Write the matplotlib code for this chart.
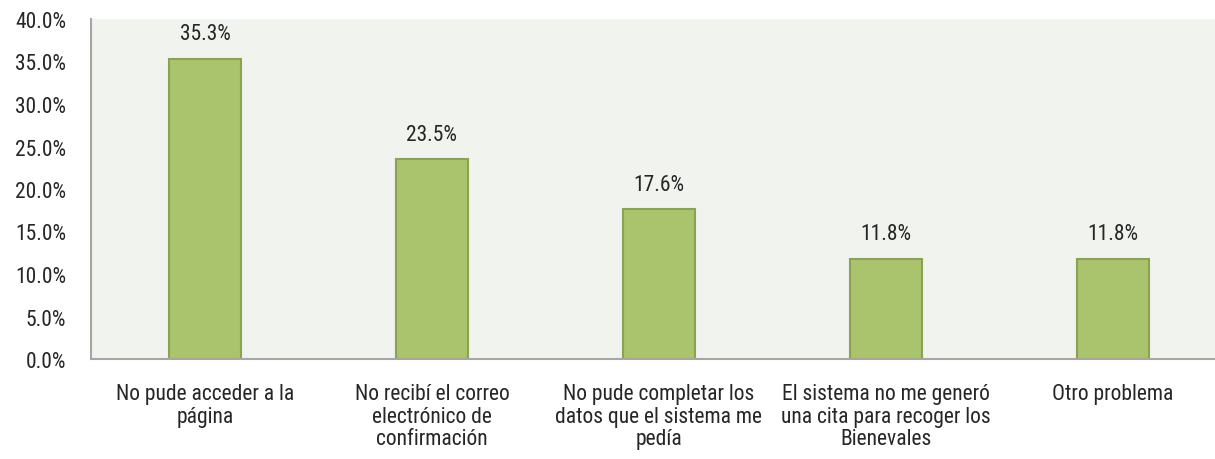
import matplotlib
matplotlib.use('Agg')
import matplotlib.pyplot as plt
import matplotlib.ticker as mtick
from matplotlib import font_manager

categories = ['No pude acceder a la\npágina',
              'No recibí el correo\nelectrónico de\nconfirmación',
              'No pude completar los\ndatos que el sistema me\npedía',
              'El sistema no me generó\nuna cita para recoger los\nBienevales',
              'Otro problema']
values = [0.353, 0.235, 0.176, 0.118, 0.118]

# look for a narrow / condensed regular face
paths = [f.fname for f in font_manager.fontManager.ttflist]
pick = None
for key in ['LiberationSansNarrow-Regular', 'RobotoCondensed-Regular', 'OpenSans_Condensed-Regular',
            'OpenSansCondensed-Regular', 'NotoSans-Condensed.', 'NotoSans_Condensed-Regular',
            'DejaVuSansCondensed.']:
    hits = [p for p in paths if key.lower() in p.lower().replace(' ', '')]
    if hits:
        pick = hits[0]
        break
if pick:
    fp = font_manager.FontProperties(fname=pick)
else:
    fp = font_manager.FontProperties(family='DejaVu Sans', stretch='condensed')

fs = 15.5
txt = '#262626'
fig = plt.figure(figsize=(12.15, 4.6), dpi=100)
ax = fig.add_axes([91/1215, 100/460, 1124/1215, 340/460])
ax.set_facecolor('#F1F3EE')
x = range(len(values))
ax.bar(x, values, width=0.317, color='#AAC46E', edgecolor='#8AA352', linewidth=1.5)
for xi, v in zip(x, values):
    ax.annotate(f'{v*100:.1f}%', (xi, v), xytext=(0, 10.5), textcoords='offset points',
                ha='center', va='bottom', fontproperties=fp, fontsize=fs, color=txt)
ax.set_xlim(-0.502, 4.45)
ax.set_ylim(0, 0.40)
ax.set_yticks([i * 0.05 for i in range(9)])
ax.yaxis.set_major_formatter(mtick.PercentFormatter(xmax=1, decimals=1))
ax.set_xticks(list(x))
ax.set_xticklabels(categories, linespacing=1.12, va='top')
ax.tick_params(axis='both', length=0, colors=txt)
ax.tick_params(axis='x', pad=17)
ax.tick_params(axis='y', pad=18)
for lab in ax.get_xticklabels() + ax.get_yticklabels():
    lab.set_fontproperties(fp)
    lab.set_fontsize(fs)
for s in ['top', 'right']:
    ax.spines[s].set_visible(False)
for s in ['left', 'bottom']:
    ax.spines[s].set_color('#A6A6A6')
    ax.spines[s].set_linewidth(1.5)
fig.savefig('out.png', dpi=100)
